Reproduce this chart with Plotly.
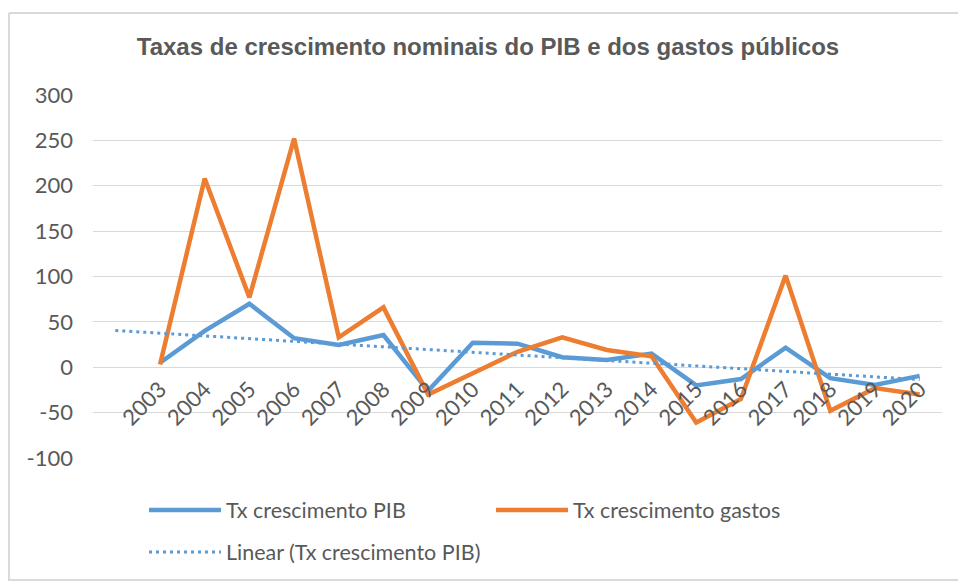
import numpy as np
import plotly.graph_objects as go

years = ["2003", "2004", "2005", "2006", "2007", "2008", "2009", "2010", "2011",
         "2012", "2013", "2014", "2015", "2016", "2017", "2018", "2019", "2020"]
pib = [5, 40, 70, 32, 24.5, 35.5, -26, 27, 26, 11, 8, 15, -20, -13, 21.5, -12, -19.5, -9.5]
gastos = [3, 208, 77, 252, 33, 66, -30, -6, 17, 33, 19, 12, -61, -35, 101, -48, -23, -30]
y_ticks = [-100, -50, 0, 50, 100, 150, 200, 250, 300]
y_ticktext = [str(v) for v in y_ticks]

# category positions (slot 0 is the backward-forecast period of the trendline)
xpos = list(range(1, len(years) + 1))

# Excel-style linear trendline for PIB, with a 1-period backward forecast
slope, intercept = np.polyfit(xpos, pib, 1)
trend_x = [0, xpos[-1]]
trend_y = [intercept + slope * v for v in trend_x]

BLUE = "#5B9BD5"
ORANGE = "#ED7D31"
GRID = "#D9D9D9"
TXT = "#595959"

W, H = 958, 581
L, R, T, B = 93, 16, 95, 123
PW, PH = W - L - R, H - T - B


def px_x(x):
    return (x - L) / PW


def px_y(y):
    return (H - B - y) / PH


fig = go.Figure()
fig.add_trace(go.Scatter(x=xpos, y=pib, mode="lines", name="Tx crescimento PIB",
                         line=dict(color=BLUE, width=4.5), legend="legend"))
fig.add_trace(go.Scatter(x=xpos, y=gastos, mode="lines", name="Tx crescimento gastos",
                         line=dict(color=ORANGE, width=4.5), legend="legend"))
fig.add_trace(go.Scatter(x=trend_x, y=trend_y, mode="lines", name="Linear (Tx crescimento PIB)",
                         line=dict(color=BLUE, width=3, dash="3px,4px"), legend="legend2"))

legend_common = dict(orientation="h", xanchor="left", yanchor="middle",
                     font=dict(family="Lato", size=21.5, color=TXT),
                     itemwidth=72, bgcolor="rgba(0,0,0,0)")

border = dict(color=GRID, width=2)
fig.update_layout(
    width=W, height=H,
    margin=dict(l=L, r=R, t=T, b=B, autoexpand=False),
    paper_bgcolor="white", plot_bgcolor="white",
    title=dict(text="<b>Taxas de crescimento nominais do PIB e dos gastos públicos</b>",
               x=0.5094, xanchor="center", y=1 - 47 / H, yanchor="middle",
               font=dict(family="Liberation Sans", size=24, color=TXT)),
    legend=dict(**legend_common, x=px_x(144), y=px_y(510),
                entrywidth=260, entrywidthmode="pixels"),
    legend2=dict(**legend_common, x=px_x(144), y=px_y(552)),
    showlegend=True,
    shapes=[
        dict(type="line", xref="paper", yref="paper", x0=px_x(9), x1=px_x(W),
             y0=px_y(13), y1=px_y(13), line=border, layer="below"),
        dict(type="line", xref="paper", yref="paper", x0=px_x(9), x1=px_x(9),
             y0=px_y(13), y1=px_y(H), line=border, layer="below"),
        dict(type="line", xref="paper", yref="paper", x0=px_x(9), x1=px_x(W),
             y0=px_y(580), y1=px_y(580), line=border, layer="below"),
    ],
)

fig.update_yaxes(range=[-100, 300], tickvals=y_ticks, ticktext=y_ticktext,
                 showgrid=True, gridcolor=GRID,
                 gridwidth=1.3, zeroline=False, showline=False, ticks="",
                 ticklabelstandoff=19,
                 tickfont=dict(family="Lato", size=22, color=TXT))
fig.update_xaxes(range=[-0.5, len(years) + 0.5], tickvals=xpos, ticktext=years,
                 tickangle=-45, showgrid=False, zeroline=False, showline=False, ticks="",
                 anchor="free", position=0.25, ticklabelstandoff=4,
                 tickfont=dict(family="Lato", size=22, color=TXT))

fig.write_html("out.html", config={"displayModeBar": False},
               post_script="document.body.style.margin='0';document.body.style.overflow='hidden';")
